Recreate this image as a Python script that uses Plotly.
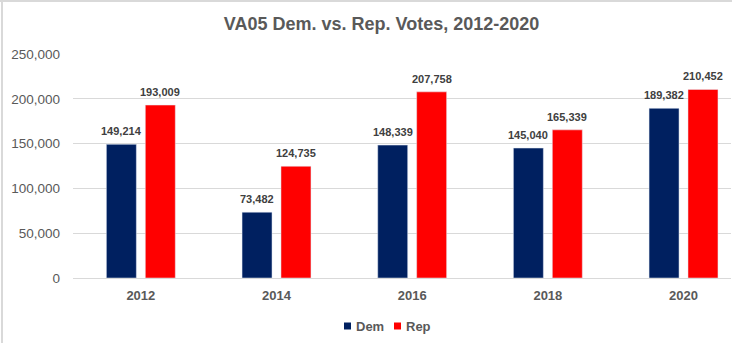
import plotly.graph_objects as go

# Vote totals for Virginia's 5th congressional district
years = ["2012", "2014", "2016", "2018", "2020"]
dem_votes = [149214, 73482, 148339, 145040, 189382]
rep_votes = [193009, 124735, 207758, 165339, 210452]
y_ticks = [0, 50000, 100000, 150000, 200000, 250000]

DEM_COLOR = "#002060"
REP_COLOR = "#FF0000"
TEXT_GREY = "#595959"
LABEL_GREY = "#404040"
GRID = "#D9D9D9"
FONT = "Liberation Sans, Arial, sans-serif"

BAR_W = 0.221
DEM_OFF = -0.254
REP_OFF = 0.033

fig = go.Figure()
fig.add_trace(go.Bar(name="Dem", x=years, y=dem_votes, marker_color=DEM_COLOR,
                     width=BAR_W, offset=DEM_OFF, showlegend=False))
fig.add_trace(go.Bar(name="Rep", x=years, y=rep_votes, marker_color=REP_COLOR,
                     width=BAR_W, offset=REP_OFF, showlegend=False))

# value labels above each bar (x given as category index)
annotations = []
for i, (d, r) in enumerate(zip(dem_votes, rep_votes)):
    for val, off in ((d, DEM_OFF), (r, REP_OFF)):
        annotations.append(dict(
            x=i + off + BAR_W / 2, y=val, xref="x", yref="y",
            yshift=5, yanchor="bottom", xanchor="center",
            text=f"<b>{val:,}</b>", showarrow=False,
            font=dict(family=FONT, size=11, color=LABEL_GREY),
        ))

# legend drawn as swatches + labels centred under the plot
def px_x(px):
    return (px - 73) / 658

def px_y(py):
    return (278 - py) / 224

shapes = []
for name, color, sx, tx in (("Dem", DEM_COLOR, 344, 354), ("Rep", REP_COLOR, 394, 404)):
    shapes.append(dict(type="rect", xref="paper", yref="paper",
                       x0=px_x(sx), x1=px_x(sx + 7), y0=px_y(329.5), y1=px_y(322.5),
                       fillcolor=color, line=dict(width=0)))
    annotations.append(dict(x=px_x(tx), y=px_y(326.5), xref="paper", yref="paper",
                            xanchor="left", yanchor="middle", text=f"<b>{name}</b>",
                            showarrow=False,
                            font=dict(family=FONT, size=13, color=TEXT_GREY)))

# faint outer frame along the top and left edges
shapes.append(dict(type="line", xref="paper", yref="paper",
                   x0=px_x(2), x1=px_x(2), y0=px_y(343), y1=px_y(0),
                   line=dict(color=GRID, width=2)))
shapes.append(dict(type="line", xref="paper", yref="paper",
                   x0=px_x(0), x1=px_x(732), y0=px_y(1), y1=px_y(1),
                   line=dict(color=GRID, width=2)))

fig.update_layout(
    width=732, height=343,
    margin=dict(l=73, r=1, t=54, b=65),
    paper_bgcolor="white", plot_bgcolor="white",
    title=dict(text="<b>VA05 Dem. vs. Rep. Votes, 2012-2020</b>",
               x=381.5 / 732, xref="container", xanchor="center",
               y=1 - 17 / 343, yref="container", yanchor="top",
               font=dict(family=FONT, size=18, color=TEXT_GREY)),
    xaxis=dict(type="category", range=[-0.5, 4.35], showgrid=False,
               showline=False, zeroline=False, ticks="",
               ticklabelstandoff=8,
               tickvals=years, ticktext=[f"<b>{y}</b>" for y in years],
               tickfont=dict(family=FONT, size=13, color=TEXT_GREY)),
    yaxis=dict(range=[0, 250000], tickvals=y_ticks, tickformat=",",
               showgrid=True, gridcolor=GRID, gridwidth=1,
               zeroline=True, zerolinecolor=GRID, zerolinewidth=1,
               showline=False, ticks="", ticklabelstandoff=12,
               tickfont=dict(family=FONT, size=13.5, color=TEXT_GREY)),
    annotations=annotations,
    shapes=shapes,
    showlegend=False,
)

fig.write_html("out.html")
